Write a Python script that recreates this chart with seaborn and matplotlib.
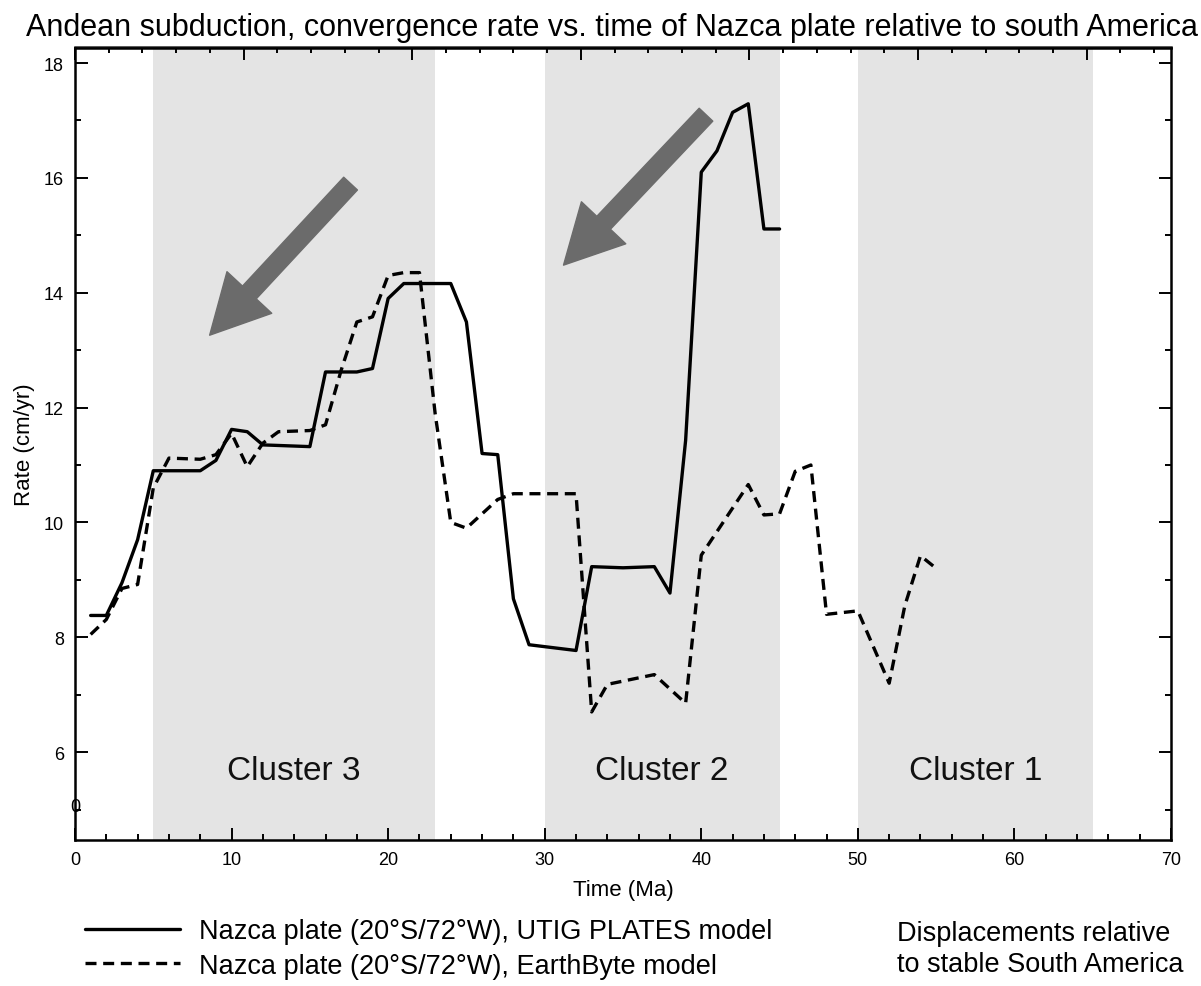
import numpy as np
import pandas as pd
import matplotlib
matplotlib.use('Agg')
import matplotlib.pyplot as plt
import seaborn as sns

# time (Ma) / rate (cm/yr) vertices
utig_time = [1, 2, 3, 4, 5, 8, 9, 10, 11, 12, 15, 16, 18, 19, 20, 21, 24, 25, 26, 27,
             28, 29, 32, 33, 35, 37, 38, 39, 40, 41, 42, 43, 44, 45]
utig_rate = [8.38, 8.38, 8.95, 9.7, 10.9, 10.9, 11.08, 11.62, 11.58, 11.35, 11.32, 12.62,
             12.62, 12.68, 13.9, 14.16, 14.16, 13.49, 11.2, 11.18, 8.67, 7.87, 7.77, 9.23,
             9.21, 9.23, 8.77, 11.43, 16.1, 16.47, 17.14, 17.29, 15.11, 15.11]

eb_time = [1, 2, 3, 4, 5, 6, 8, 9, 10, 11, 12, 13, 15, 16, 17, 18, 19, 20, 21, 22, 23,
           24, 25, 26, 27, 28, 32, 33, 34, 37, 38, 39, 40, 43, 44, 45, 46, 47, 48, 50,
           52, 53, 54, 55]
eb_rate = [8.05, 8.31, 8.85, 8.92, 10.6, 11.12, 11.1, 11.18, 11.55, 10.97, 11.38, 11.58,
           11.6, 11.7, 12.65, 13.49, 13.58, 14.3, 14.35, 14.35, 11.9, 10.0, 9.9, 10.15,
           10.4, 10.5, 10.5, 6.7, 7.18, 7.35, 7.1, 6.85, 9.43, 10.66, 10.13, 10.15, 10.89,
           11.0, 8.4, 8.46, 7.2, 8.55, 9.42, 9.2]

utig_label = "Nazca plate (20°S/72°W), UTIG PLATES model"
eb_label = "Nazca plate (20°S/72°W), EarthByte model"

cluster_names = ["Cluster 3", "Cluster 2", "Cluster 1"]
cluster_start = [5, 30, 50]
cluster_end = [23, 45, 65]

# trend arrows (tail -> head), in data units
arrow_tails = [(17.6, 15.9), (40.3, 17.1)]
arrow_heads = [(8.6, 13.26), (31.2, 14.48)]

df = pd.concat([
    pd.DataFrame({'time': utig_time, 'rate': utig_rate, 'model': utig_label}),
    pd.DataFrame({'time': eb_time, 'rate': eb_rate, 'model': eb_label}),
])

sns.set_style('ticks')
plt.rcParams['font.family'] = ['Liberation Sans', 'DejaVu Sans']
plt.rcParams['text.color'] = 'black'
plt.rcParams['axes.labelcolor'] = 'black'
plt.rcParams['xtick.color'] = 'black'
plt.rcParams['ytick.color'] = 'black'

fig = plt.figure(figsize=(12.01, 9.87), dpi=100)
ax = fig.add_axes([75 / 1201, 1 - 841 / 987, 1096 / 1201, (841 - 48.5) / 987])

# shaded clusters
for name, s, e in zip(cluster_names, cluster_start, cluster_end):
    ax.axvspan(s, e, color='#e4e4e4', lw=0, zorder=0)
    ax.text((s + e) / 2, 5.68, name, ha='center', va='center', fontsize=24, color='#111111')

sns.lineplot(data=df, x='time', y='rate', style='model', color='black', linewidth=2.4,
             dashes={utig_label: '', eb_label: (3.3, 2.0)}, estimator=None, sort=False,
             legend=False, ax=ax)

for tail, head in zip(arrow_tails, arrow_heads):
    ax.annotate('', xy=head, xytext=tail,
                arrowprops=dict(arrowstyle='simple,head_length=4.2,head_width=4.4,tail_width=1.35',
                                color='#6b6b6b', mutation_scale=10, shrinkA=0, shrinkB=0))

ax.set_xlim(0, 70)
ax.set_ylim(4.47, 18.27)
ax.set_xticks(np.arange(0, 71, 10))
ax.set_xticks(np.arange(0, 71, 2), minor=True)
ax.set_yticks(np.arange(6, 19, 2))
ax.set_yticks(np.arange(5, 19, 1), minor=True)
ax.tick_params(which='both', direction='in', width=1.4, color='black', labelsize=13)
ax.tick_params(which='major', length=9)
ax.tick_params(which='minor', length=4)
ax.tick_params(axis='y', which='both', right=True, pad=8)
ax.tick_params(axis='x', which='both', pad=8)
for sp in ax.spines.values():
    sp.set_visible(True)
    sp.set_linewidth(1.8)
    sp.set_color('black')

# unlabeled top axis on its own 0-65 scale
top = ax.secondary_xaxis('top', functions=(lambda x: x * 65 / 70, lambda t: t * 70 / 65))
top.set_xticks(np.arange(0, 66, 10))
top.set_xticks(np.arange(0, 66, 2), minor=True)
top.tick_params(which='both', direction='in', width=1.4, labeltop=False)
top.tick_params(which='major', length=9)
top.tick_params(which='minor', length=4)
top.spines['top'].set_linewidth(1.8)

ax.text(0, 5.06, '0', ha='center', va='center', fontsize=13)

ax.set_xlabel('Time (Ma)', fontsize=16, labelpad=8)
ax.set_ylabel('Rate (cm/yr)', fontsize=16, labelpad=6)
fig.text(612 / 1201, 1 - 28 / 987, 'Andean subduction, convergence rate vs. time of Nazca plate relative to south America',
         ha='center', va='center', fontsize=22)

handles = ax.get_lines()[:2]
fig.legend(handles, [utig_label, eb_label], loc='center left',
           bbox_to_anchor=(85 / 1201, 1 - 949.5 / 987), frameon=False, fontsize=19.5,
           handlelength=3.5, handletextpad=0.7, labelspacing=0.3, borderpad=0,
           borderaxespad=0)
fig.text(897 / 1201, 1 - 949.5 / 987, 'Displacements relative\nto stable South America',
         ha='left', va='center', fontsize=19.5, linespacing=1.25)

fig.savefig('out.png', dpi=100)
